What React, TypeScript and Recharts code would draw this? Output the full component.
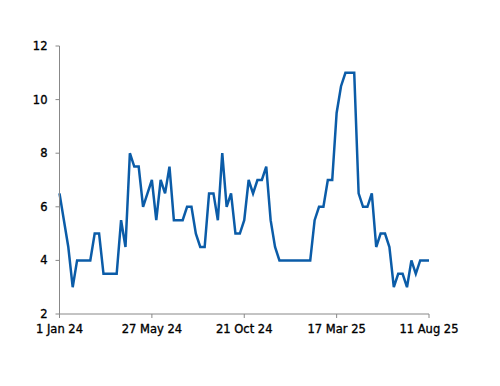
import { CartesianGrid, Line, LineChart, XAxis, YAxis } from "recharts";

// weekly values, starting Monday 1 Jan 2024
const rate = [
    6.5, 5.5, 4.5, 3, 4, 4, 4, 4, 5, 5,
    3.5, 3.5, 3.5, 3.5, 5.5, 4.5, 8, 7.5, 7.5, 6,
    6.5, 7, 5.5, 7, 6.5, 7.5, 5.5, 5.5, 5.5, 6,
    6, 5, 4.5, 4.5, 6.5, 6.5, 5.5, 8, 6, 6.5,
    5, 5, 5.5, 7, 6.5, 7, 7, 7.5, 5.5, 4.5,
    4, 4, 4, 4, 4, 4, 4, 4, 5.5, 6,
    6, 7, 7, 9.5, 10.5, 11, 11, 11, 6.5, 6,
    6, 6.5, 4.5, 5, 5, 4.5, 3, 3.5, 3.5, 3,
    4, 3.5, 4, 4, 4,
];

const xTicks = ["1 Jan 24", "27 May 24", "21 Oct 24", "17 Mar 25", "11 Aug 25"];
const yTicks = [2, 4, 6, 8, 10, 12];

const MONTHS = ["Jan", "Feb", "Mar", "Apr", "May", "Jun", "Jul", "Aug", "Sep", "Oct", "Nov", "Dec"];
const START = Date.UTC(2024, 0, 1);
const WEEK = 7 * 24 * 3600 * 1000;

const fmt = (t: number) => {
    const d = new Date(t);
    return `${d.getUTCDate()} ${MONTHS[d.getUTCMonth()]} ${String(d.getUTCFullYear()).slice(2)}`;
};

const data = rate.map((v, i) => ({ date: fmt(START + i * WEEK), value: v }));

const AXIS = "#888888";
// a thin stroke to get closer to the heavier labels of the original
const tickStyle = { fill: "#000", stroke: "#000", strokeWidth: 0.35, fontSize: 11.5, fontFamily: "DejaVu Sans" };

const App: React.FC = () => {
    return (
        <div style={{ width: 484, height: 370 }}>
            <LineChart width={484} height={370} data={data} margin={{ top: 38, right: 63, bottom: 34, left: 11.5 }}>
                <CartesianGrid stroke="none" />
                <XAxis
                    dataKey="date"
                    ticks={xTicks}
                    interval={0}
                    stroke={AXIS}
                    tickSize={4}
                    tickMargin={7}
                    tick={tickStyle}
                    height={30}
                />
                <YAxis
                    domain={[2, 12]}
                    ticks={yTicks}
                    stroke={AXIS}
                    tickSize={4}
                    tickMargin={8}
                    tick={tickStyle}
                    width={40}
                />
                <Line
                    type="linear"
                    dataKey="value"
                    stroke="#0B5CA8"
                    strokeWidth={2.5}
                    dot={false}
                    isAnimationActive={false}
                />
            </LineChart>
        </div>
    );
};

export default App;
